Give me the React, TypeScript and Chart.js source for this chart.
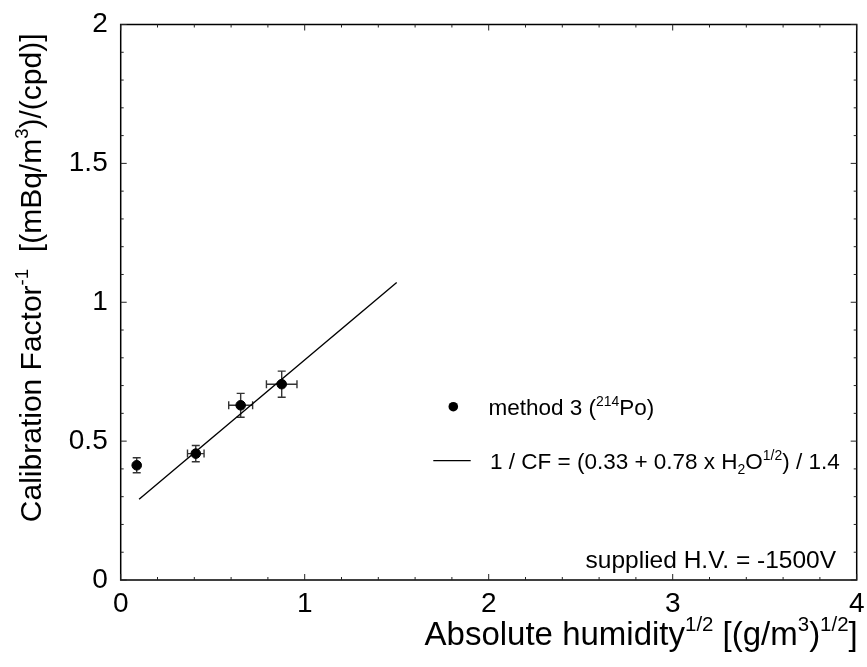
import React, { useEffect, useRef } from "react";
import { Chart, registerables } from "chart.js";

Chart.register(...registerables);

// ---- data ----
const humidity = [0.087, 0.408, 0.652, 0.875];
const calibration = [0.413, 0.455, 0.629, 0.705];
const humidityErr = [0, 0.045, 0.065, 0.083];
const calibrationErr = [0.027, 0.029, 0.043, 0.047];
const fitX = [0.1, 1.5];
const fitY = [0.291, 1.071];
const xMajorTicks = [0, 1, 2, 3, 4];
const yMajorTicks = [0, 0.5, 1, 1.5, 2];

type Seg = { t: string; s?: "sup" | "sub" };
const xTitle: Seg[] = [
  { t: "Absolute humidity" },
  { t: "1/2", s: "sup" },
  { t: " [(g/m" },
  { t: "3", s: "sup" },
  { t: ")" },
  { t: "1/2", s: "sup" },
  { t: "]" },
];
const yTitle: Seg[] = [
  { t: "Calibration Factor" },
  { t: "-1", s: "sup" },
  { t: "  [(mBq/m" },
  { t: "3", s: "sup" },
  { t: ")/(cpd)]" },
];
const legendPoints: Seg[] = [{ t: "method 3 (" }, { t: "214", s: "sup" }, { t: "Po)" }];
const legendFit: Seg[] = [
  { t: "1 / CF = (0.33 + 0.78 x H" },
  { t: "2", s: "sub" },
  { t: "O" },
  { t: "1/2", s: "sup" },
  { t: ") / 1.4" },
];
const noteText: Seg[] = [{ t: "supplied H.V. = -1500V" }];

const FAMILY = "'Liberation Sans', Arial, Helvetica, sans-serif";

function segSize(size: number, s?: string) {
  return s ? size * 0.62 : size;
}
function measureRich(ctx: CanvasRenderingContext2D, segs: Seg[], size: number) {
  let w = 0;
  for (const g of segs) {
    ctx.font = `${segSize(size, g.s)}px ${FAMILY}`;
    w += ctx.measureText(g.t).width;
  }
  return w;
}
function drawRich(
  ctx: CanvasRenderingContext2D,
  segs: Seg[],
  x: number,
  y: number,
  size: number,
  align: "left" | "right" = "left"
) {
  const w = measureRich(ctx, segs, size);
  let cx = align === "right" ? x - w : x;
  ctx.textAlign = "left";
  ctx.textBaseline = "alphabetic";
  for (const g of segs) {
    const fs = segSize(size, g.s);
    ctx.font = `${fs}px ${FAMILY}`;
    const dy = g.s === "sup" ? -size * 0.42 : g.s === "sub" ? size * 0.2 : 0;
    ctx.fillText(g.t, cx, y + dy);
    cx += ctx.measureText(g.t).width;
  }
}

const framePlugin = {
  id: "frameAndExtras",
  beforeDatasetsDraw(chart: any) {
    const ctx: CanvasRenderingContext2D = chart.ctx;
    const xs = chart.scales.x;
    const ys = chart.scales.y;
    ctx.save();
    ctx.strokeStyle = "#333";
    ctx.lineWidth = 1.4;
    const cap = 4;
    for (let i = 0; i < humidity.length; i++) {
      const px = xs.getPixelForValue(humidity[i]);
      const py = ys.getPixelForValue(calibration[i]);
      if (calibrationErr[i] > 0) {
        const y1 = ys.getPixelForValue(calibration[i] - calibrationErr[i]);
        const y2 = ys.getPixelForValue(calibration[i] + calibrationErr[i]);
        ctx.beginPath();
        ctx.moveTo(px, y1);
        ctx.lineTo(px, y2);
        ctx.moveTo(px - cap, y1);
        ctx.lineTo(px + cap, y1);
        ctx.moveTo(px - cap, y2);
        ctx.lineTo(px + cap, y2);
        ctx.stroke();
      }
      if (humidityErr[i] > 0) {
        const x1 = xs.getPixelForValue(humidity[i] - humidityErr[i]);
        const x2 = xs.getPixelForValue(humidity[i] + humidityErr[i]);
        ctx.beginPath();
        ctx.moveTo(x1, py);
        ctx.lineTo(x2, py);
        ctx.moveTo(x1, py - cap);
        ctx.lineTo(x1, py + cap);
        ctx.moveTo(x2, py - cap);
        ctx.lineTo(x2, py + cap);
        ctx.stroke();
      }
    }
    ctx.restore();
  },
  afterDraw(chart: any) {
    const ctx: CanvasRenderingContext2D = chart.ctx;
    const a = chart.chartArea;
    const xs = chart.scales.x;
    const ys = chart.scales.y;
    ctx.save();
    // frame
    ctx.strokeStyle = "#000";
    ctx.lineWidth = 1.5;
    ctx.strokeRect(a.left, a.top, a.right - a.left, a.bottom - a.top);
    // inward ticks
    ctx.lineWidth = 1;
    ctx.strokeStyle = "#222";
    ctx.beginPath();
    for (const t of xs.ticks) {
      const v = t.value;
      const major = xMajorTicks.some((m) => Math.abs(m - v) < 1e-6);
      const len = major ? 6 : 3;
      const px = xs.getPixelForValue(v);
      ctx.moveTo(px, a.bottom);
      ctx.lineTo(px, a.bottom - len);
      ctx.moveTo(px, a.top);
      ctx.lineTo(px, a.top + len);
    }
    for (const t of ys.ticks) {
      const v = t.value;
      const major = yMajorTicks.some((m) => Math.abs(m - v) < 1e-6);
      const len = major ? 6 : 3;
      const py = ys.getPixelForValue(v);
      ctx.moveTo(a.left, py);
      ctx.lineTo(a.left + len, py);
      ctx.moveTo(a.right, py);
      ctx.lineTo(a.right - len, py);
    }
    ctx.stroke();

    ctx.fillStyle = "#000";
    // x axis title
    drawRich(ctx, xTitle, a.right + 1, 645, 33, "right");
    // y axis title (rotated)
    ctx.save();
    ctx.translate(41, a.top + 9);
    ctx.rotate(-Math.PI / 2);
    drawRich(ctx, yTitle, 0, 0, 30, "right");
    ctx.restore();

    // legend
    ctx.beginPath();
    ctx.arc(453.3, 406.7, 4.8, 0, Math.PI * 2);
    ctx.fill();
    drawRich(ctx, legendPoints, 488.5, 415, 22.5);
    ctx.beginPath();
    ctx.lineWidth = 1.2;
    ctx.strokeStyle = "#000";
    ctx.moveTo(433.3, 460.7);
    ctx.lineTo(470.7, 460.7);
    ctx.stroke();
    drawRich(ctx, legendFit, 490, 469, 22.5);

    // note
    drawRich(ctx, noteText, 836, 568, 24.5, "right");
    ctx.restore();
  },
};

export default function App() {
  const ref = useRef<HTMLCanvasElement | null>(null);
  useEffect(() => {
    document.body.style.margin = "0";
    if (!ref.current) return;
    const chart = new Chart(ref.current, {
      type: "scatter",
      data: {
        datasets: [
          {
            label: "method 3",
            data: humidity.map((x, i) => ({ x, y: calibration[i] })),
            backgroundColor: "#000",
            borderColor: "#000",
            pointRadius: 4.8,
            pointHoverRadius: 4.8,
            showLine: false,
            order: 1,
          },
          {
            label: "fit",
            data: fitX.map((x, i) => ({ x, y: fitY[i] })),
            showLine: true,
            borderColor: "#000",
            borderWidth: 1.4,
            pointRadius: 0,
            fill: false,
            order: 2,
          },
        ],
      },
      options: {
        animation: false,
        responsive: true,
        maintainAspectRatio: false,
        events: [],
        layout: { padding: { left: 0, top: 24.5, right: 10.3, bottom: 0 } },
        plugins: {
          legend: { display: false },
          tooltip: { enabled: false },
          title: { display: false },
        },
        scales: {
          x: {
            type: "linear",
            min: 0,
            max: 4,
            grid: { display: false, drawTicks: false },
            border: { display: false },
            ticks: {
              stepSize: 0.2,
              autoSkip: false,
              maxRotation: 0,
              padding: 7,
              color: "#000",
              font: { family: FAMILY, size: 28 },
              callback: (v: any) =>
                xMajorTicks.some((m) => Math.abs(m - Number(v)) < 1e-6)
                  ? String(Math.round(Number(v)))
                  : "",
            },
            afterFit: (s: any) => {
              s.height = 87;
              s.paddingLeft = 0;
              s.paddingRight = 0;
            },
          },
          y: {
            type: "linear",
            min: 0,
            max: 2,
            grid: { display: false, drawTicks: false },
            border: { display: false },
            ticks: {
              stepSize: 0.1,
              autoSkip: false,
              padding: 13,
              color: "#000",
              font: { family: FAMILY, size: 28 },
              callback: (v: any) =>
                yMajorTicks.some((m) => Math.abs(m - Number(v)) < 1e-6)
                  ? String(Math.round(Number(v) * 10) / 10)
                  : "",
            },
            afterFit: (s: any) => {
              s.width = 120.7;
              s.paddingTop = 0;
              s.paddingBottom = 0;
            },
          },
        },
      },
      plugins: [framePlugin],
    });
    return () => chart.destroy();
  }, []);
  return (
    <div style={{ position: "fixed", left: 0, top: 0, width: 867, height: 667, background: "#fff" }}>
      <canvas ref={ref} />
    </div>
  );
}
